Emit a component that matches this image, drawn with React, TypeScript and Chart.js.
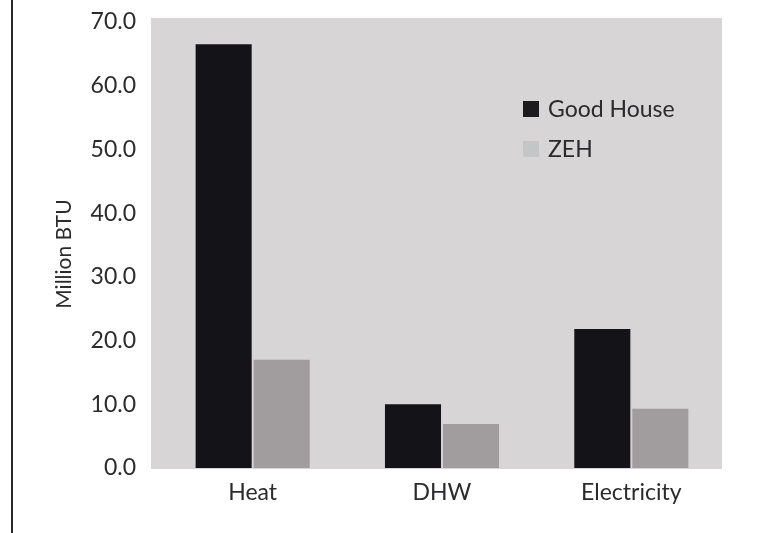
import React, { useEffect, useRef } from "react";
import { Chart, registerables } from "chart.js";

Chart.register(...registerables);

const categories = ["Heat", "DHW", "Electricity"];
const goodHouse = [66.5, 10.0, 21.8];
const zeh = [17.0, 6.9, 9.3];
const seriesNames = ["Good House", "ZEH"];
const yTicks = [0, 10, 20, 30, 40, 50, 60, 70];
const yTitle = "Million BTU";

const FONT = "Lato, 'DejaVu Sans', sans-serif";
const TEXT = "#2b2a2c";

export default function App() {
  const ref = useRef<HTMLCanvasElement | null>(null);
  useEffect(() => {
    if (!ref.current) return;
    const decor = {
      id: "decor",
      beforeDraw(chart: any) {
        const { ctx, chartArea } = chart;
        ctx.save();
        ctx.fillStyle = "#fff";
        ctx.fillRect(0, 0, chart.width, chart.height);
        ctx.fillStyle = "#d7d5d6";
        ctx.fillRect(chartArea.left - 7, chartArea.top - 4, chartArea.right - 4 - (chartArea.left - 7), chartArea.bottom + 1 - (chartArea.top - 4));
        ctx.fillStyle = "#2a2a2a";
        ctx.fillRect(11, 0, 2, chart.height);
        ctx.restore();
      },
      afterDraw(chart: any) {
        const { ctx } = chart;
        ctx.save();
        ctx.font = `23px ${FONT}`;
        ctx.textBaseline = "middle";
        ctx.textAlign = "left";
        const items = [
          { label: seriesNames[0], color: "#1d1b1e", y: 109 },
          { label: seriesNames[1], color: "#c4c5c7", y: 149 },
        ];
        for (const it of items) {
          ctx.fillStyle = it.color;
          ctx.fillRect(523, it.y - 8, 16, 16);
          ctx.fillStyle = TEXT;
          ctx.fillText(it.label, 548, it.y + 1);
        }
        ctx.translate(64, 254);
        ctx.rotate(-Math.PI / 2);
        ctx.textAlign = "center";
        ctx.font = `21px ${FONT}`;
        ctx.fillText(yTitle, 0, 0);
        ctx.restore();
      },
    };
    const chart = new Chart(ref.current, {
      type: "bar",
      data: {
        labels: categories,
        datasets: [
          { label: seriesNames[0], data: goodHouse, backgroundColor: "#141318", barPercentage: 0.966, categoryPercentage: 0.613 },
          { label: seriesNames[1], data: zeh, backgroundColor: "#a19c9e", barPercentage: 0.966, categoryPercentage: 0.613 },
        ],
      },
      options: {
        animation: false,
        responsive: false,
        devicePixelRatio: 1,
        layout: { padding: { top: 22, right: 44, bottom: 0, left: 0 } },
        plugins: { legend: { display: false }, tooltip: { enabled: false } },
        scales: {
          x: {
            grid: { display: false, drawTicks: false },
            border: { display: false },
            ticks: { color: TEXT, font: { family: FONT, size: 23 }, padding: 11 },
            afterFit: (s: any) => { s.height = 65; s.paddingLeft = 0; s.paddingRight = 0; },
          },
          y: {
            min: 0,
            max: 70,
            afterBuildTicks: (s: any) => { s.ticks = yTicks.map((v) => ({ value: v })); },
            grid: { display: false, drawTicks: false },
            border: { display: false },
            ticks: {
              color: TEXT,
              font: { family: FONT, size: 23 },
              padding: 22,
              callback: (v: any) => Number(v).toFixed(1),
            },
            afterFit: (s: any) => { s.width = 158; s.paddingTop = 0; s.paddingBottom = 0; },
          },
        },
      },
      plugins: [decor],
    });
    return () => chart.destroy();
  }, []);
  return (
    <div style={{ position: "fixed", left: 0, top: 0, width: 770, height: 533, background: "#fff" }}>
      <canvas ref={ref} width={770} height={533} style={{ display: "block" }} />
    </div>
  );
}
